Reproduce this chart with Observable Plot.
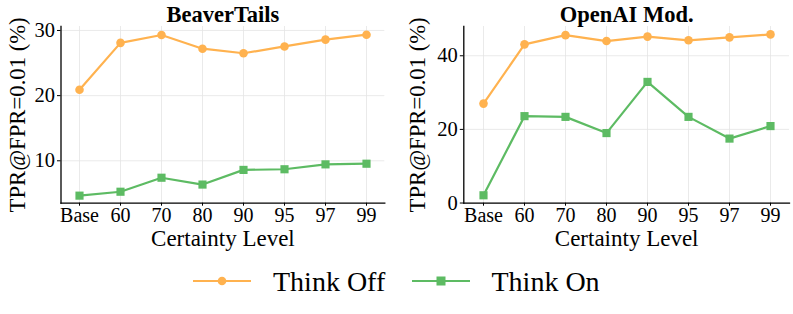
<!DOCTYPE html>
<html>
<head>
<meta charset="utf-8">
<script src="https://cdn.jsdelivr.net/npm/d3@7"></script>
<script src="https://cdn.jsdelivr.net/npm/@observablehq/plot@0.6"></script>
<style>
  html, body { margin: 0; padding: 0; background: #fff; }
  #wrap { position: relative; width: 793px; height: 314px; overflow: hidden; font-family: "Liberation Serif", "DejaVu Serif", serif; }
  .panel { position: absolute; top: 0; }
  .panel svg, .panel svg text { font-family: "Liberation Serif", serif !important; }
  #legend { position: absolute; left: 0; top: 262px; width: 793px; height: 40px; }
  .leg { position: absolute; top: 0; font-size: 28px; line-height: 40px; color: #000; white-space: nowrap; }
</style>
</head>
<body>
<div id="wrap">
  <div id="p1" class="panel" style="left:0px"></div>
  <div id="p2" class="panel" style="left:400px"></div>
  <div id="legend"></div>
</div>
<script>
const levels = ["Base", "60", "70", "80", "90", "95", "97", "99"];
const seriesNames = ["Think Off", "Think On"];
const seriesColors = ["#FFB24F", "#5DBB63"];

const beaverOff = [20.9, 28.1, 29.3, 27.2, 26.5, 27.55, 28.6, 29.35];
const beaverOn = [4.65, 5.25, 7.4, 6.35, 8.6, 8.7, 9.45, 9.55];
const openaiOff = [27.0, 43.1, 45.6, 44.0, 45.2, 44.2, 45.0, 45.8];
const openaiOn = [2.1, 23.6, 23.4, 19.0, 32.9, 23.4, 17.5, 20.9];

const beaverTicks = [10, 20, 30];
const openaiTicks = [0, 20, 40];

const yLabel = "TPR@FPR=0.01 (%)";
const xLabel = "Certainty Level";

function toRows(off, on) {
  const rows = [];
  levels.forEach((l, i) => rows.push({level: l, value: off[i], series: seriesNames[0]}));
  levels.forEach((l, i) => rows.push({level: l, value: on[i], series: seriesNames[1]}));
  return rows;
}

function panel({title, off, on, yDomain, yTicks, width, marginLeft, marginRight, xPadding}) {
  const rows = toRows(off, on);
  const offRows = rows.filter(d => d.series === seriesNames[0]);
  const onRows = rows.filter(d => d.series === seriesNames[1]);
  return Plot.plot({
    width,
    height: 260,
    marginLeft,
    marginRight,
    marginTop: 26,
    marginBottom: 57.3,
    style: {fontFamily: "'Liberation Serif', serif", fontSize: "20px", color: "#000", background: "transparent"},
    x: {type: "point", domain: levels, padding: xPadding},
    y: {domain: yDomain},
    color: {domain: seriesNames, range: seriesColors},
    marks: [
      Plot.gridX(levels, {stroke: "#e4e4e4", strokeOpacity: 1, strokeWidth: 0.8}),
      Plot.gridY(yTicks, {stroke: "#e4e4e4", strokeOpacity: 1, strokeWidth: 0.8}),
      Plot.axisX(levels, {tickSize: 3, tickPadding: 2, fontSize: 20, label: null, stroke: "#000"}),
      Plot.axisY(yTicks, {tickSize: 3.5, tickPadding: 2.5, fontSize: 20.5, label: null, stroke: "#000"}),
      Plot.frame({anchor: "left", stroke: "#000", strokeWidth: 1.3}),
      Plot.frame({anchor: "bottom", stroke: "#000", strokeWidth: 1.3}),
      Plot.line(offRows, {x: "level", y: "value", stroke: seriesColors[0], strokeWidth: 2.2}),
      Plot.dot(offRows, {x: "level", y: "value", fill: seriesColors[0], r: 4.3, symbol: "circle"}),
      Plot.line(onRows, {x: "level", y: "value", stroke: seriesColors[1], strokeWidth: 2.2}),
      Plot.dot(onRows, {x: "level", y: "value", fill: seriesColors[1], r: 4.6, symbol: "square"}),
      Plot.text([title], {frameAnchor: "top", dy: -12, text: d => d, fontSize: 22.5, fontWeight: "bold", lineAnchor: "middle", fill: "#000"}),
      Plot.text([yLabel], {frameAnchor: "left", dx: -marginLeft + 17, rotate: -90, text: d => d, fontSize: 22.7, lineAnchor: "middle", textAnchor: "middle", fill: "#000"}),
      Plot.text([xLabel], {frameAnchor: "bottom", dy: 35.5, text: d => d, fontSize: 23, lineAnchor: "middle", textAnchor: "middle", fill: "#000"})
    ]
  });
}

document.getElementById("p1").appendChild(panel({
  title: "BeaverTails", off: beaverOff, on: beaverOn,
  yDomain: [3.49, 30.61], yTicks: beaverTicks,
  width: 400, marginLeft: 60.5, marginRight: 15.7, xPadding: 0.37
}));
document.getElementById("p2").appendChild(panel({
  title: "OpenAI Mod.", off: openaiOff, on: openaiOn,
  yDomain: [-0.05, 47.95], yTicks: openaiTicks,
  width: 393, marginLeft: 63.3, marginRight: 4, xPadding: 0.39
}));

// Legend
const legendItems = [
  {name: seriesNames[0], color: seriesColors[0], shape: "circle", lineX: 192.7, textX: 273},
  {name: seriesNames[1], color: seriesColors[1], shape: "square", lineX: 411.7, textX: 491.5}
];
const leg = document.getElementById("legend");
legendItems.forEach(it => {
  const svg = d3.create("svg").attr("width", 60).attr("height", 40)
    .style("position", "absolute").style("left", it.lineX + "px").style("top", "0px");
  svg.append("line").attr("x1", 0).attr("x2", 58).attr("y1", 19).attr("y2", 19)
    .attr("stroke", it.color).attr("stroke-width", 2.2);
  if (it.shape === "circle") svg.append("circle").attr("cx", 29).attr("cy", 19).attr("r", 4.3).attr("fill", it.color);
  else svg.append("rect").attr("x", 24.5).attr("y", 14.5).attr("width", 9).attr("height", 9).attr("fill", it.color);
  leg.appendChild(svg.node());
  const t = document.createElement("div");
  t.className = "leg";
  t.style.left = it.textX + "px";
  t.textContent = it.name;
  leg.appendChild(t);
});
</script>
</body>
</html>
